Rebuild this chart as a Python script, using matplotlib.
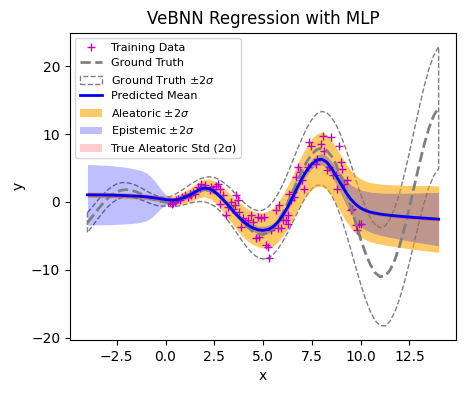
import numpy as np
import matplotlib
matplotlib.use("Agg")
import matplotlib.pyplot as plt

# grille en x (pas de 0.25 entre -4 et 14)
x_grid = np.linspace(-4, 14, 73)

# vérité terrain
y_true = [-3.03, -2.14, -1.23, -0.35, 0.42, 1.05, 1.50, 1.75, 1.82, 1.72, 1.50, 1.19,
          0.84, 0.51, 0.24, 0.06, 0.00, 0.06, 0.24, 0.51, 0.84, 1.19, 1.50, 1.72,
          1.82, 1.75, 1.50, 1.05, 0.42, -0.35, -1.23, -2.14, -3.03, -3.80, -4.40, -4.75,
          -4.79, -4.51, -3.88, -2.92, -1.68, -0.21, 1.40, 3.04, 4.60, 5.97, 7.04, 7.71,
          7.92, 7.61, 6.79, 5.47, 3.71, 1.61, -0.71, -3.12, -5.44, -7.53, -9.24, -10.43,
          -11.00, -10.89, -10.07, -8.56, -6.44, -3.80, -0.83, 2.33, 5.46, 8.37, 10.85, 12.73,
          13.87]
std_true = [0.74, 0.71, 0.69, 0.66, 0.63, 0.60, 0.58, 0.55, 0.52, 0.49, 0.47, 0.44,
            0.41, 0.38, 0.36, 0.33, 0.30, 0.38, 0.45, 0.53, 0.60, 0.68, 0.75, 0.83,
            0.90, 0.98, 1.05, 1.13, 1.20, 1.28, 1.35, 1.43, 1.50, 1.58, 1.65, 1.73,
            1.80, 1.88, 1.95, 2.03, 2.10, 2.18, 2.25, 2.33, 2.40, 2.48, 2.55, 2.63,
            2.70, 2.78, 2.85, 2.93, 3.00, 3.08, 3.15, 3.23, 3.30, 3.38, 3.45, 3.53,
            3.60, 3.68, 3.75, 3.83, 3.90, 3.98, 4.05, 4.13, 4.20, 4.28, 4.35, 4.43,
            4.50]

# prédiction du réseau
y_mean = [1.05, 1.05, 1.04, 1.03, 1.02, 1.00, 0.98, 0.96, 0.93, 0.90, 0.86, 0.82,
          0.76, 0.68, 0.58, 0.47, 0.35, 0.28, 0.30, 0.45, 0.70, 1.05, 1.45, 1.85,
          2.05, 1.95, 1.55, 0.95, 0.20, -0.60, -1.45, -2.20, -2.90, -3.45, -3.85, -4.10,
          -4.18, -4.05, -3.70, -3.00, -2.00, -0.80, 0.60, 2.10, 3.50, 4.70, 5.60, 6.15,
          6.30, 5.90, 5.00, 3.80, 2.60, 1.40, 0.40, -0.35, -0.90, -1.25, -1.50, -1.65,
          -1.78, -1.88, -1.96, -2.03, -2.10, -2.16, -2.22, -2.28, -2.33, -2.38, -2.43, -2.48,
          -2.53]
ale_2std = [0.40, 0.40, 0.40, 0.40, 0.40, 0.40, 0.40, 0.40, 0.40, 0.40, 0.40, 0.40,
            0.40, 0.42, 0.44, 0.47, 0.50, 0.60, 0.70, 0.80, 0.90, 1.00, 1.10, 1.20,
            1.30, 1.42, 1.55, 1.68, 1.80, 1.92, 2.05, 2.18, 2.30, 2.38, 2.45, 2.53,
            2.60, 2.70, 2.80, 2.90, 3.00, 3.12, 3.25, 3.38, 3.50, 3.62, 3.75, 3.88,
            4.00, 4.05, 4.10, 4.15, 4.20, 4.22, 4.25, 4.27, 4.30, 4.33, 4.36, 4.39,
            4.42, 4.46, 4.50, 4.54, 4.58, 4.62, 4.66, 4.70, 4.74, 4.78, 4.82, 4.86,
            4.90]
epi_2std = [4.45, 4.44, 4.42, 4.40, 4.37, 4.33, 4.28, 4.22, 4.15, 4.06, 3.95, 3.80,
            3.55, 3.05, 2.30, 1.45, 0.80, 0.45, 0.36, 0.35, 0.35, 0.35, 0.38, 0.40,
            0.40, 0.40, 0.42, 0.44, 0.45, 0.46, 0.48, 0.50, 0.50, 0.52, 0.54, 0.56,
            0.58, 0.60, 0.60, 0.60, 0.60, 0.60, 0.62, 0.64, 0.66, 0.68, 0.70, 0.72,
            0.80, 0.90, 1.05, 1.25, 1.50, 1.80, 2.10, 2.45, 2.70, 2.85, 2.95, 3.03,
            3.10, 3.17, 3.24, 3.31, 3.38, 3.45, 3.52, 3.59, 3.66, 3.73, 3.80, 3.87,
            3.95]
true_ale_2std = 0.3

# données d'entraînement
x_train = [0.14, 0.22, 0.31, 0.39, 0.48, 0.56, 0.65, 0.75, 0.82, 0.99, 1.16, 1.25,
           1.33, 1.41, 1.50, 1.67, 1.76, 1.84, 2.00, 2.26, 2.35, 2.43, 2.60, 2.69,
           2.77, 2.77, 2.94, 3.11, 3.20, 3.37, 3.45, 3.54, 3.62, 3.71, 3.79, 3.88,
           3.96, 4.05, 4.22, 4.39, 4.47, 4.64, 4.73, 4.81, 4.90, 5.07, 5.15, 5.24,
           5.32, 5.41, 5.66, 5.75, 5.83, 5.92, 6.00, 6.17, 6.26, 6.26, 6.34, 6.43,
           6.51, 6.60, 6.68, 6.77, 6.90, 7.00, 7.11, 7.28, 7.36, 7.45, 7.70, 7.79,
           7.96, 8.05, 8.13, 8.30, 8.38, 8.47, 8.56, 8.72, 8.81, 8.89, 8.98, 9.07,
           9.15, 9.32, 9.49, 9.57, 9.74, 9.83, 9.91, 10.00]
y_train = [0.00, 0.05, -0.24, -0.15, 0.00, 0.25, 0.49, 0.30, 0.73, 0.98, 0.73, 1.23,
           0.98, 1.46, 1.23, 2.20, 2.00, 2.69, 2.44, 1.71, 2.20, 1.96, 2.30, 2.69,
           1.96, -0.24, 0.98, -1.95, -0.73, 0.00, -0.97, -0.48, 0.98, 0.25, -1.46, -3.66,
           -2.43, -2.93, -2.68, -1.95, -2.93, -5.36, -2.20, -5.12, -2.43, -2.20, -6.34, -6.70,
           -8.30, -4.14, -1.20, -3.90, -0.48, -3.90, -2.68, -2.68, -1.95, -3.17, 1.23, 0.25,
           1.46, 0.73, 3.66, 5.12, 4.40, 3.20, 1.96, 5.12, 8.78, 8.30, 5.62, 6.35,
           8.55, 9.77, 7.57, 4.64, 5.12, 9.52, 3.91, 3.91, 1.96, 8.30, 5.86, 4.89,
           2.69, 3.17, -1.22, -0.97, -3.41, -4.14, -3.17, -3.17]

y_true = np.array(y_true)
std_true = np.array(std_true)
y_mean = np.array(y_mean)
ale_2std = np.array(ale_2std)
epi_2std = np.array(epi_2std)

fig, ax = plt.subplots(figsize=(4.66, 3.93), dpi=100)
fig.subplots_adjust(left=0.150, right=0.979, bottom=0.135, top=0.917)

ax.plot(x_train, y_train, 'm+', label='Training Data')
ax.plot(x_grid, y_true, '--', color='gray', lw=2, label='Ground Truth')
ax.fill_between(x_grid, y_true - 2 * std_true, y_true + 2 * std_true,
                facecolor='none', edgecolor='gray', linestyle='--', lw=1,
                label=r'Ground Truth $\pm 2\sigma$')
ax.plot(x_grid, y_mean, 'b-', lw=2, label='Predicted Mean')
ax.fill_between(x_grid, y_mean - ale_2std, y_mean + ale_2std, color='orange',
                alpha=0.6, lw=0, label=r'Aleatoric $\pm 2\sigma$')
ax.fill_between(x_grid, y_mean - epi_2std, y_mean + epi_2std, color='blue',
                alpha=0.25, lw=0, label=r'Epistemic $\pm 2\sigma$')
ax.fill_between(x_grid, y_mean - true_ale_2std, y_mean + true_ale_2std, color='red',
                alpha=0.2, lw=0, label='True Aleatoric Std (2σ)')

ax.set_xlabel('x')
ax.set_ylabel('y')
ax.set_title('VeBNN Regression with MLP')
ax.legend(loc='upper left', fontsize=8)

fig.savefig('out.png', dpi=100)
